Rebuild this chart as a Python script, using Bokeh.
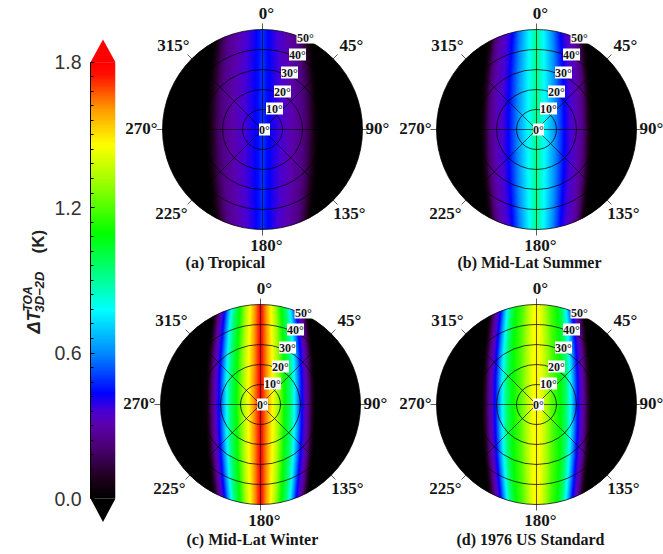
import numpy as np
from bokeh.embed import file_html
from bokeh.resources import INLINE
from bokeh.plotting import figure
from bokeh.layouts import row, column
from bokeh.models import LinearColorMapper, LinearAxis, FixedTicker, Range1d
from bokeh.core.properties import value

# Cross-track profiles: distance from the 0-180 line (degrees on the plot) and dT (K)
tropical_off = [0, 1.5, 5, 10, 15, 20, 23, 25, 27, 29]
tropical_val = [0.50, 0.46, 0.41, 0.35, 0.30, 0.24, 0.16, 0.09, 0.02, 0.0]
summer_off = [0, 1.5, 4, 7, 10, 14, 17, 20, 22, 24, 25.5, 27, 28.5]
summer_val = [0.95, 0.86, 0.78, 0.68, 0.58, 0.43, 0.36, 0.32, 0.27, 0.20, 0.10, 0.03, 0.0]
winter_off = [0, 1.5, 3, 6, 9, 12, 15, 17, 20.5, 22.5, 24, 25.5, 27, 28]
winter_val = [1.78, 1.70, 1.62, 1.46, 1.30, 1.09, 0.95, 0.78, 0.45, 0.33, 0.25, 0.12, 0.02, 0.0]
us_off = [0, 2, 5, 8, 12, 15, 17, 20.5, 22.5, 24, 25.5, 27, 28]
us_val = [1.48, 1.44, 1.33, 1.20, 1.09, 0.95, 0.78, 0.45, 0.33, 0.25, 0.12, 0.02, 0.0]

# narrowing of the bands away from the 90-270 line, read at the rows below
bend_rows = [0, 12.5, 25, 37.5, 50]
bend_width = [1.0, 0.99, 0.96, 0.91, 0.85]

panel_titles = ["(a) Tropical", "(b) Mid-Lat Summer", "(c) Mid-Lat Winter", "(d) 1976 US Standard"]
azimuths = [0, 45, 90, 135, 180, 225, 270, 315]
az_labels = ["0°", "45°", "90°", "135°", "180°", "225°", "270°", "315°"]
zenith_rings = [10, 20, 30, 40, 50]
zenith_labels = ["0°", "10°", "20°", "30°", "40°", "50°"]

# colour scale stops (K, colour)
cmap_vals = [0, 0.08, 0.2, 0.3, 0.36, 0.43, 0.6, 0.776, 0.93, 1.09, 1.3, 1.46, 1.6, 1.75, 1.8]
cmap_cols = [(0, 0, 0), (30, 0, 28), (72, 0, 110), (92, 0, 172), (72, 0, 214), (0, 0, 255), (0, 140, 255),
             (0, 255, 255), (0, 255, 128), (0, 255, 0), (153, 255, 0), (255, 255, 0), (255, 160, 0),
             (255, 16, 0), (255, 0, 0)]
cbar_ticks = [0.0, 0.6, 1.2, 1.8]
cbar_minor = [round(i * 0.06, 2) for i in range(31)]

lev = np.linspace(0, 1.8, 256)
palette = ["#%02x%02x%02x" % tuple(int(round(np.interp(v, cmap_vals, [c[i] for c in cmap_cols]))) for i in range(3))
           for v in lev]
mapper = LinearColorMapper(palette=palette, low=0, high=1.8, nan_color=(0, 0, 0, 0))

SERIF = value("Liberation Serif")
SANS = value("Liberation Sans")
R = 50
TXT = "#161616"


def panel(off, val, title, w, h, cx, top_deg, title_x, title_y):
    # cx : pixels from figure left to the panel centre; 2 px per plot degree
    p = figure(width=w, height=h, output_backend="svg", toolbar_location=None, min_border=0,
               x_range=Range1d(-cx / 2, (w - cx) / 2), y_range=Range1d(top_deg - h / 2, top_deg))
    p.axis.visible = False
    p.grid.visible = False
    p.outline_line_color = None
    p.background_fill_color = "white"

    n = 240
    ax = (np.arange(n) + 0.5) / n * 120 - 60
    xx, yy = np.meshgrid(ax, ax)
    scale = np.interp(np.abs(yy), bend_rows, bend_width)
    img = np.interp(np.abs(xx) / scale, off, val)
    img[np.hypot(xx, yy) > R + 1] = np.nan
    p.image(image=[img], x=-60, y=-60, dw=120, dh=120, color_mapper=mapper)
    p.annulus(x=[0], y=[0], inner_radius=R, outer_radius=R + 3, fill_color="white", line_color=None)

    p.circle(x=[0] * len(zenith_rings), y=[0] * len(zenith_rings), radius=zenith_rings,
             fill_color=None, line_color="black", line_width=0.9, line_alpha=0.85)
    th = np.radians(azimuths)
    p.segment(x0=[0] * 8, y0=[0] * 8, x1=(R + 3) * np.sin(th), y1=(R + 3) * np.cos(th),
              line_color="black", line_width=0.8, line_alpha=0.8)

    # labels of the azimuth
    ax_pos = [(2, 58), (44.5, 42), (57.4, 0.5), (43.5, -42), (2, -58), (-45.5, -42), (-60.5, 0.5), (-44.5, 42)]
    p.text(x=[a[0] for a in ax_pos], y=[a[1] for a in ax_pos], text=az_labels, text_font=SERIF,
           text_font_size="17px", text_font_style="bold", text_color=TXT,
           text_align="center", text_baseline="middle")

    # labels of the zenith angle in white boxes
    zx = [1, 6, 10, 13.5, 17.5, 21.5]
    zy = [0, 10.5, 19, 28.5, 37.5, 46]
    zw = [5.5, 8.5, 8.5, 8.5, 8.5, 9]
    p.rect(x=zx, y=zy, width=zw, height=6, fill_color="white", line_color=None)
    p.text(x=zx, y=zy, text=zenith_labels, text_font=SERIF, text_font_size="12px", text_font_style="bold",
           text_color=TXT, text_align="center", text_baseline="middle")

    p.text(x=[title_x], y=[title_y], text=[title], text_font=SERIF, text_font_size="16px",
           text_font_style="bold", text_color=TXT, text_align="center", text_baseline="middle")
    return p


pa = panel(tropical_off, tropical_val, panel_titles[0], 278, 271, 141, 64.5, -18.5, -66.5)
pb = panel(summer_off, summer_val, panel_titles[1], 264, 271, 137, 64.5, -3.5, -66.5)
pc = panel(winter_off, winter_val, panel_titles[2], 278, 283, 139, 66.5, -4, -67.5)
pd_ = panel(us_off, us_val, panel_titles[3], 264, 283, 137, 66.5, -3, -67.5)

# colour bar
cb = figure(width=73, height=554, output_backend="svg", toolbar_location=None,
            min_border=0, min_border_left=42, min_border_right=6,
            x_range=Range1d(0, 1), y_range=Range1d(-0.2310, 2.0545), y_axis_location=None)
cb.xaxis.visible = False
cb.grid.visible = False
cb.outline_line_color = None
bar = np.array(lev).reshape(256, 1)
cb.image(image=[bar], x=0, y=0, dw=1, dh=1.8, color_mapper=mapper)
cb.patch(x=[0, 0.5, 1], y=[1.8, 1.894, 1.8], fill_color=palette[-1], line_color=None)
cb.patch(x=[0, 0.5, 1], y=[0, -0.0965, 0], fill_color=palette[0], line_color=None)
axis = LinearAxis(ticker=FixedTicker(ticks=cbar_ticks, minor_ticks=cbar_minor), bounds=(0, 1.8))
axis.major_label_overrides = {t: "%.1f" % t for t in cbar_ticks}
axis.major_label_text_font = "Liberation Sans"
axis.major_label_text_font_size = "19.5px"
axis.major_label_text_color = "#333333"
axis.major_label_standoff = 9
axis.major_tick_in = 4
axis.major_tick_out = 0
axis.minor_tick_in = 3
axis.minor_tick_out = 0
axis.axis_line_color = "black"
axis.major_tick_line_color = "black"
axis.minor_tick_line_color = "black"
cb.add_layout(axis, "left")

# the colour bar's title, in its own narrow strip (x and y count pixels of the strip)
lab = figure(width=48, height=554, output_backend="svg", toolbar_location=None, min_border=0,
             x_range=Range1d(0, 48), y_range=Range1d(554, 0))
lab.axis.visible = False
lab.grid.visible = False
lab.outline_line_color = None


def vlabel(txt, x_page, y_page, size, style="bold italic"):
    lab.text(x=[x_page], y=[y_page], text=[txt], angle=np.pi / 2, text_font=SANS, text_font_style=style,
             text_font_size=size, text_color="#222222", text_baseline="alphabetic", text_align="left")


vlabel("ΔT", 33, 333, "18px")
vlabel("TOA", 27, 311, "12px")
vlabel("3D−2D", 39, 312, "13px")
vlabel("(K)", 38, 253, "17px", "bold")

layout = row(lab, cb, column(row(pa, pb), row(pc, pd_)))
open("out.html", "w").write(file_html(layout, INLINE))
